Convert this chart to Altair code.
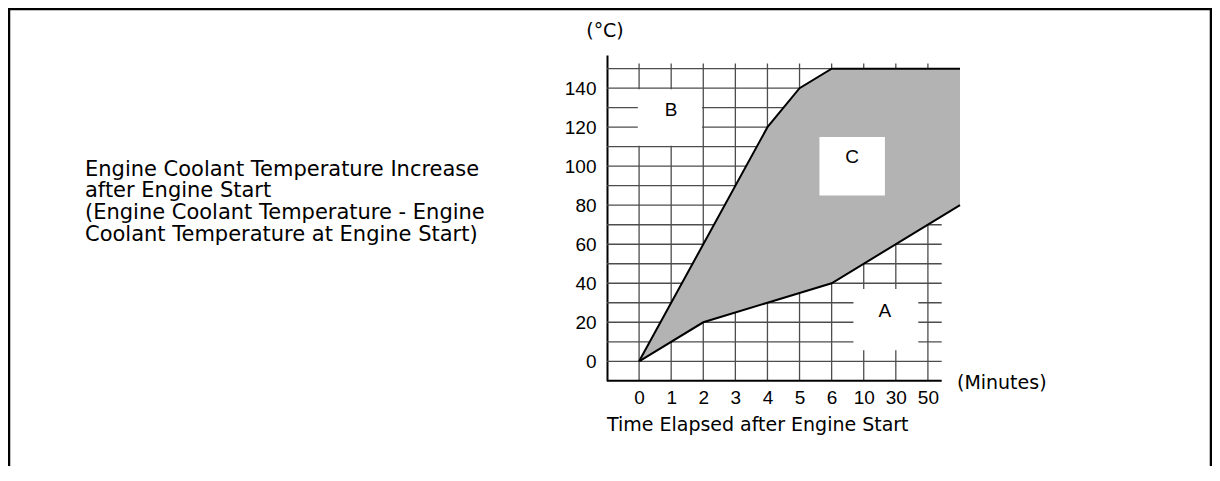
import altair as alt
import pandas as pd

# ---- data ----
x_labels = ["0", "1", "2", "3", "4", "5", "6", "10", "30", "50"]
x_slots = list(range(len(x_labels)))          # equally spaced label slots
y_ticks = [0, 20, 40, 60, 80, 100, 120, 140]
grid_y = list(range(0, 151, 10))

# boundary curves of region C (x = slot position; last point one slot right of "50")
curve_x = [0, 2, 4, 5, 6, 10]
upper_c = [0, 60, 120, 140, 150, 150]
lower_c = [0, 20, 30, 35, 40, 80]

region_names = ["A", "B", "C"]
region_x = [7.66, 1.0, 6.64]
region_y = [26, 129, 104.7]
box_x1 = [6.68, -0.04, 5.62]
box_x2 = [8.70, 1.96, 7.66]
box_y1 = [5.6, 110.5, 85]
box_y2 = [37, 139.5, 115]

left_text = ("Engine Coolant Temperature Increase\nafter Engine Start\n"
             "(Engine Coolant Temperature - Engine\nCoolant Temperature at Engine Start)")
x_title = "Time Elapsed after Engine Start"
x_unit = "(Minutes)"
y_unit = "(°C)"

# ---- scales / axes ----
XS = alt.Scale(domain=[-1, 10], nice=False, zero=False)
YS = alt.Scale(domain=[-10, 157], nice=False, zero=False)
label_arr = "[" + ",".join("'%s'" % s for s in x_labels) + "]"
XA = alt.Axis(values=x_slots, labelExpr=label_arr + "[datum.value]", domain=False,
              ticks=False, tickSize=0, grid=False, labelFont="Liberation Sans",
              labelFontSize=19, labelColor="black", labelPadding=8, title=None,
              labelFlush=False, labelOverlap=False, labelAngle=0)
YA = alt.Axis(values=y_ticks, domain=True, domainColor="black", domainWidth=2,
              ticks=False, tickSize=0, grid=False, labelFont="Liberation Sans",
              labelFontSize=19, labelColor="black", labelPadding=11, title=None,
              labelFlush=False, labelOverlap=False)

GRID = "#4d4d4d"
X_END = 9.43   # right end of the printed grid (in slot units)
V_TOP = 152.7  # top of vertical grid lines

hgrid_df = pd.DataFrame({"y": grid_y, "x0": -1, "x1": X_END})
vgrid_df = pd.DataFrame({"x": x_slots, "y0": -10, "y1": V_TOP})
area_df = pd.DataFrame({"x": curve_x, "hi": upper_c, "lo": lower_c})
line_df = pd.concat([
    pd.DataFrame({"x": curve_x, "v": upper_c, "s": "upper"}),
    pd.DataFrame({"x": curve_x, "v": lower_c, "s": "lower"}),
])
box_df = pd.DataFrame({"x1": box_x1, "x2": box_x2, "y1": box_y1, "y2": box_y2})
lab_df = pd.DataFrame({"x": region_x, "y": region_y, "t": region_names})
xaxis_df = pd.DataFrame({"x0": [-1], "x1": [X_END], "y": [-10]})

hgrid = alt.Chart(hgrid_df).mark_rule(color=GRID, strokeWidth=1.3).encode(
    x=alt.X("x0:Q", scale=XS, axis=XA), x2="x1:Q",
    y=alt.Y("y:Q", scale=YS, axis=YA))
vgrid = alt.Chart(vgrid_df).mark_rule(color=GRID, strokeWidth=1.3).encode(
    x=alt.X("x:Q", scale=XS, axis=XA),
    y=alt.Y("y0:Q", scale=YS, axis=YA), y2="y1:Q")
xline = alt.Chart(xaxis_df).mark_rule(color="black", strokeWidth=2).encode(
    x=alt.X("x0:Q", scale=XS, axis=XA), x2="x1:Q",
    y=alt.Y("y:Q", scale=YS, axis=YA))
area = alt.Chart(area_df).mark_area(color="#b3b3b3", opacity=1).encode(
    x=alt.X("x:Q", scale=XS, axis=XA),
    y=alt.Y("hi:Q", scale=YS, axis=YA), y2="lo:Q")
lines = alt.Chart(line_df).mark_line(color="black", strokeWidth=2).encode(
    x=alt.X("x:Q", scale=XS, axis=XA),
    y=alt.Y("v:Q", scale=YS, axis=YA), detail="s:N")
boxes = alt.Chart(box_df).mark_rect(color="white", opacity=1).encode(
    x=alt.X("x1:Q", scale=XS, axis=XA), x2="x2:Q",
    y=alt.Y("y1:Q", scale=YS, axis=YA), y2="y2:Q")
letters = alt.Chart(lab_df).mark_text(font="Liberation Sans", fontSize=19,
                                      color="black", align="center",
                                      baseline="middle").encode(
    x=alt.X("x:Q", scale=XS, axis=XA),
    y=alt.Y("y:Q", scale=YS, axis=YA), text="t:N")

one = alt.Data(values=[{"k": 1}])
TF = "DejaVu Sans"
left = alt.Chart(one).mark_text(font=TF, fontSize=21, color="black", align="left",
                                baseline="alphabetic", lineBreak="\n",
                                lineHeight=21.7).encode(
    x=alt.value(-522), y=alt.value(120.7), text=alt.value(left_text))
xtitle = alt.Chart(one).mark_text(font=TF, fontSize=19, color="black", align="left",
                                  baseline="alphabetic").encode(
    x=alt.value(0), y=alt.value(376), text=alt.value(x_title))
xunit = alt.Chart(one).mark_text(font=TF, fontSize=19, color="black", align="left",
                                 baseline="alphabetic").encode(
    x=alt.value(350), y=alt.value(334), text=alt.value(x_unit))
yunit = alt.Chart(one).mark_text(font=TF, fontSize=19, color="black", align="center",
                                 baseline="alphabetic").encode(
    x=alt.value(-2), y=alt.value(-18), text=alt.value(y_unit))

FW = 2.5
f_top = alt.Chart(one).mark_rule(color="black", strokeWidth=FW).encode(
    x=alt.value(-598), x2=alt.value(604), y=alt.value(-46))
f_left = alt.Chart(one).mark_rule(color="black", strokeWidth=FW).encode(
    x=alt.value(-598), y=alt.value(-47), y2=alt.value(420))
f_right = alt.Chart(one).mark_rule(color="black", strokeWidth=FW).encode(
    x=alt.value(604), y=alt.value(-47), y2=alt.value(420))

chart = alt.layer(
    hgrid, vgrid, xline, area, lines, boxes, letters,
    left, xtitle, xunit, yunit, f_top, f_left, f_right
).properties(
    width=353, height=325.8,
    background="white",
    autosize=alt.AutoSizeParams(type="none"),
    padding={"left": 599, "top": 47, "right": 252, "bottom": 85},
).configure_view(stroke=None, strokeWidth=0)

chart.save("out.html", embed_options={"renderer": "svg", "actions": False})
